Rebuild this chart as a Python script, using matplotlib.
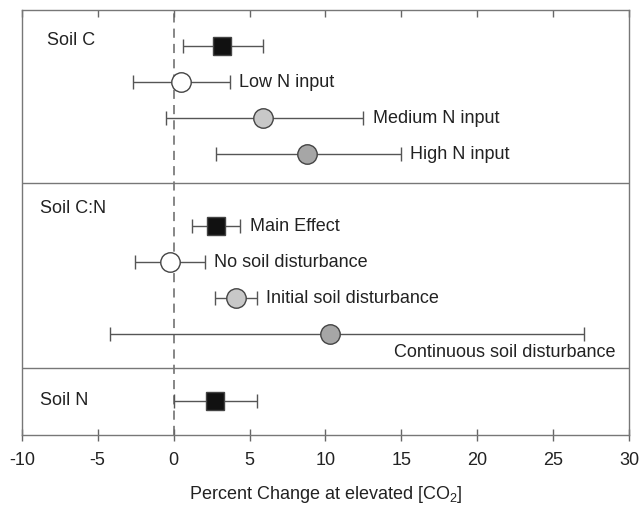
import matplotlib.pyplot as plt
import numpy as np

plt.rcParams['font.family'] = ['Liberation Sans', 'DejaVu Sans']
plt.rcParams['axes.unicode_minus'] = False
plt.rcParams['mathtext.fontset'] = 'custom'
plt.rcParams['mathtext.rm'] = 'Liberation Sans'

# effect estimates with lower / upper confidence limits (percent change)
labels = ['', 'Low N input', 'Medium N input', 'High N input',
          'Main Effect', 'No soil disturbance', 'Initial soil disturbance',
          'Continuous soil disturbance', '']
means = [3.2, 0.5, 5.9, 8.8, 2.8, -0.25, 4.1, 10.3, 2.7]
lower = [0.6, -2.7, -0.5, 2.8, 1.2, -2.55, 2.7, -4.2, 0.0]
upper = [5.9, 3.7, 12.5, 15.0, 4.4, 2.05, 5.5, 27.0, 5.5]
rows = [1, 2, 3, 4, 6, 7, 8, 9, 10.85]
kinds = ['main', 'low', 'mid', 'high', 'main', 'low', 'mid', 'high', 'main']

groups = ['Soil C', 'Soil C:N', 'Soil N']
group_rows = [0.83, 5.5, 10.85]
group_x = [-8.35, -8.8, -8.8]
dividers = [4.8, 9.93]

styles = {
    'main': dict(marker='s', mfc='#111111', ms=13.5),
    'low': dict(marker='o', mfc='white', ms=14),
    'mid': dict(marker='o', mfc='#c8c8c8', ms=14),
    'high': dict(marker='o', mfc='#a6a6a6', ms=14),
}

fig = plt.figure(figsize=(6.4, 5.07), dpi=100)
ax = fig.add_axes([0.034, 0.142, 0.949, 0.838])

ax.axvline(0, color='#666666', lw=1.1, ls=(0, (6, 4)), zorder=1)
for d in dividers:
    ax.axhline(d, color='#777777', lw=1.0, zorder=1)

for lab, m, lo, hi, r, k in zip(labels, means, lower, upper, rows, kinds):
    ax.errorbar(m, r, xerr=[[m - lo], [hi - m]], fmt='none', ecolor='#555555',
                elinewidth=1.0, capsize=5, capthick=1.0, zorder=2)
    ax.plot(m, r, ls='none', mec='#444444', mew=1.0, zorder=3, **styles[k])
    if lab == 'Continuous soil disturbance':
        ax.text(29.1, r + 0.5, lab, ha='right', va='center', fontsize=13, color='#222222')
    elif lab:
        ax.text(hi + 0.6, r, lab, ha='left', va='center', fontsize=13, color='#222222')

for g, gx, r in zip(groups, group_x, group_rows):
    ax.text(gx, r, g, ha='left', va='center', fontsize=13, color='#222222')

ax.set_xlim(-10, 30)
ax.set_ylim(11.8, 0)
ax.set_xticks(np.arange(-10, 31, 5))
ax.set_yticks([])
ax.tick_params(axis='x', which='major', bottom=True, top=False, direction='inout',
               length=8, width=1, color='#666666', labelsize=13,
               labelcolor='#222222', pad=8)
sec = ax.secondary_xaxis('top')
sec.set_xticks(np.arange(-10, 31, 5))
sec.tick_params(axis='x', direction='in', length=5, width=1, color='#666666',
                labeltop=False)
sec.spines['top'].set_visible(False)
for s in ax.spines.values():
    s.set_color('#777777')
    s.set_linewidth(1.0)
ax.set_xlabel('Percent Change at elevated [CO$_2$]', fontsize=13, color='#222222', labelpad=11)

fig.savefig('out.png', dpi=100)
